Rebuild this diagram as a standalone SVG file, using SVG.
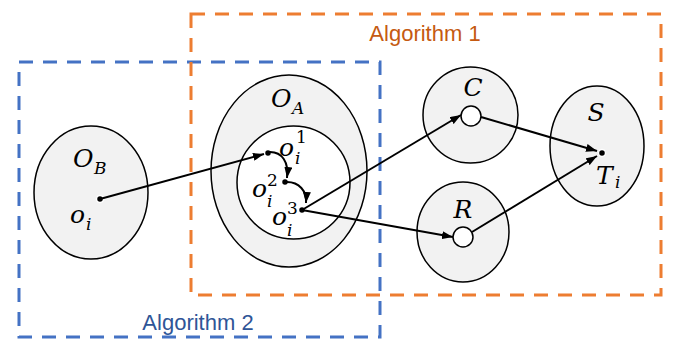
<svg xmlns="http://www.w3.org/2000/svg" width="680" height="339" viewBox="0 0 680 339">
<style>
.box{fill:none;stroke-width:3;stroke-dasharray:14 10}
.node{fill:#f2f2f2;stroke:#000;stroke-width:1.5}
.inner{fill:#fff;stroke:#000;stroke-width:1.5}
.hole{fill:#fff;stroke:#000;stroke-width:1.5}
.dot{fill:#000;stroke:#fff;stroke-width:1.5}
.m{font-family:"DejaVu Serif",serif;font-style:italic;font-size:25px;fill:#000}
.s{font-family:"DejaVu Serif",serif;font-style:italic;font-size:17px;fill:#000}
.n{font-family:"DejaVu Serif",serif;font-size:17px;fill:#000}
.lbl{font-family:"Liberation Sans",Arial,sans-serif;font-size:22px}
.edge{fill:none;stroke:#000;stroke-width:2;marker-end:url(#ah)}
</style>
<defs>
<marker id="ah" markerUnits="userSpaceOnUse" markerWidth="11" markerHeight="8" refX="11" refY="4" orient="auto">
<path d="M0,0 L11,4 L0,8 z" fill="#000"/>
</marker>
</defs>
<rect width="680" height="339" fill="#fff"/>
<g id="algorithm2">
<rect class="box" x="19" y="62" width="361" height="275" stroke="#4472c4"/>
<text class="lbl" x="198" y="330" text-anchor="middle" fill="#2f5597">Algorithm 2</text>
</g>
<g id="algorithm1">
<rect class="box" x="191" y="14" width="470" height="281" stroke="#ed7d31"/>
<text class="lbl" x="425" y="41" text-anchor="middle" fill="#c55a11">Algorithm 1</text>
</g>
<g id="OB">
<ellipse class="node" cx="91" cy="192.5" rx="57" ry="66.5"/>
<text class="m" x="73" y="167">O</text><text class="s" x="94" y="174">B</text>
<text class="m" x="70" y="223">o</text><text class="s" x="86" y="230">i</text>
<circle class="dot" cx="100" cy="199" r="3.5"/>
</g>
<g id="OA">
<ellipse class="node" cx="289" cy="171" rx="78" ry="96"/>
<circle class="inner" cx="293.5" cy="182.5" r="56.5"/>
<text class="m" x="271" y="107">O</text><text class="s" x="292" y="114">A</text>
<text class="m" x="279" y="156">o</text><text class="n" x="296" y="143">1</text><text class="s" x="295" y="164">i</text>
<text class="m" x="252" y="197">o</text><text class="n" x="267" y="186">2</text><text class="s" x="267" y="207">i</text>
<text class="m" x="272" y="225">o</text><text class="n" x="287" y="214">3</text><text class="s" x="287" y="236">i</text>
<circle class="dot" cx="268" cy="153" r="3.5"/>
<circle class="dot" cx="285" cy="182" r="3.5"/>
<circle class="dot" cx="302" cy="210" r="3.5"/>
</g>
<g id="C">
<ellipse class="node" cx="470.5" cy="115" rx="47.5" ry="48"/>
<circle class="hole" cx="471" cy="116" r="10"/>
<text class="m" x="473" y="96" text-anchor="middle">C</text>
</g>
<g id="R">
<ellipse class="node" cx="463" cy="232" rx="46" ry="50"/>
<circle class="hole" cx="463" cy="237" r="10"/>
<text class="m" x="463" y="218" text-anchor="middle">R</text>
</g>
<g id="S">
<ellipse class="node" cx="597" cy="146" rx="47" ry="60"/>
<text class="m" x="596" y="121" text-anchor="middle">S</text>
<text class="m" x="596" y="184">T</text><text class="s" x="615" y="188">i</text>
<circle class="dot" cx="602" cy="153" r="3.5"/>
</g>
<g id="connectors">
<line class="edge" x1="100" y1="199" x2="264" y2="154"/>
<path class="edge" d="M270,152 C282,152 289,162 287,178"/>
<path class="edge" d="M287,182 C299,182 307,191 306,203"/>
<line class="edge" x1="302" y1="210" x2="461" y2="115"/>
<line class="edge" x1="302" y1="210" x2="453" y2="237"/>
<line class="edge" x1="481" y1="117" x2="597" y2="151"/>
<line class="edge" x1="472" y1="232" x2="597" y2="156"/>
</g>
</svg>
